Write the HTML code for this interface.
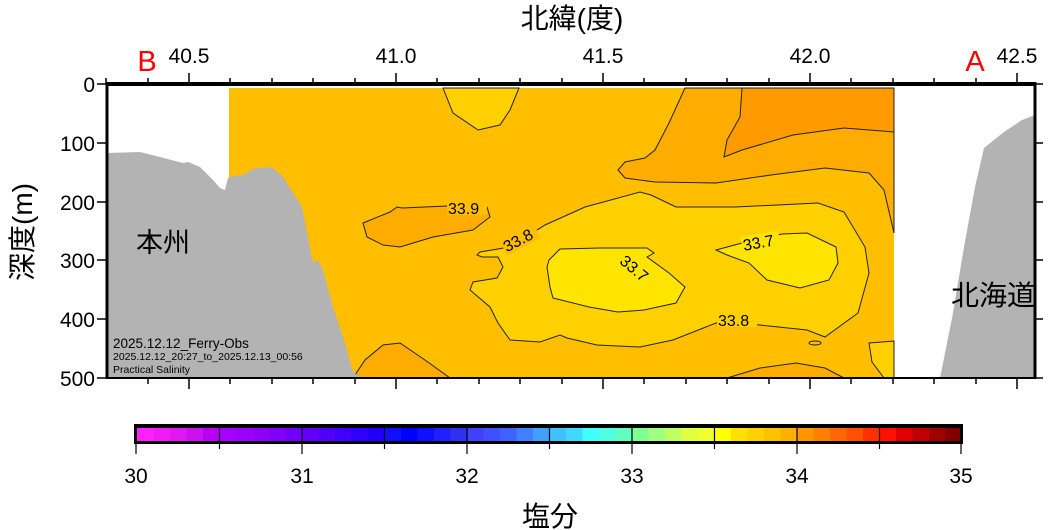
<!DOCTYPE html>
<html><head><meta charset="utf-8"><style>
html,body{margin:0;padding:0;background:#fff;}
svg{display:block;}
text{font-family:"Liberation Sans","Noto Sans CJK JP",sans-serif;}
</style></head><body>
<svg width="1051" height="530" viewBox="0 0 1051 530" xmlns="http://www.w3.org/2000/svg">
<rect x="229" y="88" width="665" height="290" fill="#ffbf00"/>
<path d="M685,88 L669,123 L655,150 L645,158 L625,162 L618,170 L625,178 L655,182 L716,183 L771,175 L825,168 L869,173 L884,190 L894,233 L894,88 Z" fill="#ffac00" stroke="#222" stroke-width="1"/>
<path d="M742,88 L740,117 L727,140 L724,157 L742,150 L793,135 L844,128 L894,132 L894,88 Z" fill="#ff9a00" stroke="#222" stroke-width="1"/>
<path d="M443,88 L453,113 L478,130 L500,125 L510,110 L519,88 Z" fill="#ffd000" stroke="#222" stroke-width="1"/>
<path d="M363,223 L390,212 L397,207 L402,208 L447,206 L487,207 L490,217 L473,230 L433,237 L400,247 L383,245 L367,237 Z" fill="#ffac00" stroke="#222" stroke-width="1"/>
<path d="M353,378 L365,360 L383,345 L400,343 L425,360 L450,378 Z" fill="#ffac00" stroke="#222" stroke-width="1"/>
<path d="M727,378 L760,368 L796,363 L825,368 L844,378 Z" fill="#ffac00" stroke="#222" stroke-width="1"/>
<path d="M477,255 L480,252 L510,247 L545,225 L585,207 L640,192 L651,195 L676,207 L735,207 L818,203 L844,212 L865,247 L869,273 L858,313 L825,337 L807,330 L760,325 L716,323 L673,340 L640,347 L597,345 L567,338 L560,335 L540,342 L510,340 L498,323 L490,307 L470,290 L473,282 L497,278 L503,267 L498,257 L482,257 Z" fill="#ffd000" stroke="#222" stroke-width="1"/>
<path d="M869,343 L894,341 L894,378 L884,378 L872,362 Z" fill="#ffd000" stroke="#222" stroke-width="1"/>
<ellipse cx="815" cy="343" rx="6" ry="2" fill="none" stroke="#222" stroke-width="1"/>
<path d="M549,260 L560,249 L600,248 L647,248 L654,253 L647,257 L669,273 L685,287 L676,303 L644,310 L618,312 L589,307 L553,298 L550,287 L547,267 Z" fill="#ffe400" stroke="#222" stroke-width="1"/>
<path d="M716,250 L742,243 L782,234 L807,233 L836,247 L838,263 L829,280 L800,288 L767,280 L749,263 L727,255 Z" fill="#ffe400" stroke="#222" stroke-width="1"/>
<g font-size="16" fill="#000">
<rect x="447" y="198" width="40" height="17" fill="#ffbf00"/>
<text x="448" y="214">33.9</text>
<g transform="translate(506,253) rotate(-28)"><rect x="0" y="-14" width="38" height="17" fill="#ffbf00"/><text x="1" y="0">33.8</text></g>
<g transform="translate(618,262) rotate(40)"><rect x="0" y="-14" width="38" height="17" fill="#ffe400"/><text x="1" y="0">33.7</text></g>
<g transform="translate(743,251) rotate(-10)"><rect x="0" y="-14" width="38" height="17" fill="#ffe400"/><text x="1" y="0">33.7</text></g>
<rect x="717" y="310" width="40" height="17" fill="#ffd000"/>
<text x="718" y="326">33.8</text>
</g>
<path d="M107,153 L140,152 L160,157 L183,163 L188,162 L200,167 L213,180 L220,188 L225,190 L228,178 L233,176 L243,175 L255,168 L272,167 L283,177 L302,207 L313,263 L318,260 L323,270 L333,307 L345,343 L353,372 L357,375 L363,378 L107,378 Z" fill="#b3b3b3"/>
<path d="M940,378 L953,313 L964,247 L975,187 L984,148 L1004,132 L1022,120 L1035,115 L1035,378 Z" fill="#b3b3b3"/>
<line x1="106" y1="84" x2="1036" y2="84" stroke="#000" stroke-width="4"/>
<line x1="107" y1="82" x2="107" y2="379" stroke="#000" stroke-width="3"/>
<line x1="1035" y1="82" x2="1035" y2="379" stroke="#000" stroke-width="3"/>
<line x1="106" y1="378" x2="1036" y2="378" stroke="#000" stroke-width="2"/>
<g stroke="#000" stroke-width="1.5">
<line x1="106" y1="78" x2="106" y2="84"/><line x1="148" y1="78" x2="148" y2="84"/><line x1="189" y1="73" x2="189" y2="84"/><line x1="230" y1="78" x2="230" y2="84"/><line x1="272" y1="78" x2="272" y2="84"/><line x1="313" y1="78" x2="313" y2="84"/><line x1="355" y1="78" x2="355" y2="84"/><line x1="396" y1="73" x2="396" y2="84"/><line x1="437" y1="78" x2="437" y2="84"/><line x1="479" y1="78" x2="479" y2="84"/><line x1="520" y1="78" x2="520" y2="84"/><line x1="562" y1="78" x2="562" y2="84"/><line x1="603" y1="73" x2="603" y2="84"/><line x1="644" y1="78" x2="644" y2="84"/><line x1="686" y1="78" x2="686" y2="84"/><line x1="727" y1="78" x2="727" y2="84"/><line x1="769" y1="78" x2="769" y2="84"/><line x1="810" y1="73" x2="810" y2="84"/><line x1="851" y1="78" x2="851" y2="84"/><line x1="893" y1="78" x2="893" y2="84"/><line x1="934" y1="78" x2="934" y2="84"/><line x1="976" y1="78" x2="976" y2="84"/><line x1="1017" y1="73" x2="1017" y2="84"/>
<line x1="148" y1="378" x2="148" y2="384"/><line x1="189" y1="378" x2="189" y2="389"/><line x1="230" y1="378" x2="230" y2="384"/><line x1="272" y1="378" x2="272" y2="384"/><line x1="313" y1="378" x2="313" y2="384"/><line x1="355" y1="378" x2="355" y2="384"/><line x1="396" y1="378" x2="396" y2="389"/><line x1="437" y1="378" x2="437" y2="384"/><line x1="479" y1="378" x2="479" y2="384"/><line x1="520" y1="378" x2="520" y2="384"/><line x1="562" y1="378" x2="562" y2="384"/><line x1="603" y1="378" x2="603" y2="389"/><line x1="644" y1="378" x2="644" y2="384"/><line x1="686" y1="378" x2="686" y2="384"/><line x1="727" y1="378" x2="727" y2="384"/><line x1="769" y1="378" x2="769" y2="384"/><line x1="810" y1="378" x2="810" y2="389"/><line x1="851" y1="378" x2="851" y2="384"/><line x1="893" y1="378" x2="893" y2="384"/><line x1="934" y1="378" x2="934" y2="384"/><line x1="976" y1="378" x2="976" y2="384"/><line x1="1017" y1="378" x2="1017" y2="389"/>
<line x1="97" y1="84" x2="107" y2="84"/><line x1="97" y1="143" x2="107" y2="143"/><line x1="97" y1="202" x2="107" y2="202"/><line x1="97" y1="260" x2="107" y2="260"/><line x1="97" y1="319" x2="107" y2="319"/><line x1="97" y1="378" x2="107" y2="378"/>
<line x1="1035" y1="84" x2="1043" y2="84"/><line x1="1035" y1="143" x2="1043" y2="143"/><line x1="1035" y1="202" x2="1043" y2="202"/><line x1="1035" y1="260" x2="1043" y2="260"/><line x1="1035" y1="319" x2="1043" y2="319"/><line x1="1035" y1="378" x2="1043" y2="378"/>
</g>
<g font-size="21" fill="#000">
<text x="189" y="63" text-anchor="middle">40.5</text>
<text x="396" y="63" text-anchor="middle">41.0</text>
<text x="603" y="63" text-anchor="middle">41.5</text>
<text x="810" y="63" text-anchor="middle">42.0</text>
<text x="1017" y="63" text-anchor="middle">42.5</text>
<g text-anchor="end">
<text x="95" y="92">0</text><text x="95" y="151">100</text><text x="95" y="210">200</text><text x="95" y="268">300</text><text x="95" y="327">400</text><text x="95" y="386">500</text>
</g>
</g>
<text x="147" y="71" font-size="29" fill="#f00" text-anchor="middle">B</text>
<text x="975" y="71" font-size="29" fill="#f00" text-anchor="middle">A</text>
<text x="572" y="28" font-size="28" text-anchor="middle">北緯(度)</text>
<text transform="translate(32,232) rotate(-90)" font-size="28" text-anchor="middle">深度(m)</text>
<text x="136" y="252" font-size="27">本州</text>
<text x="951" y="305" font-size="28">北海道</text>
<text x="113" y="348" font-size="13.5">2025.12.12_Ferry-Obs</text>
<text x="113" y="360" font-size="10.5">2025.12.12_20:27_to_2025.12.13_00:56</text>
<text x="113" y="373" font-size="10.5">Practical Salinity</text>
<rect x="134" y="424" width="829" height="20" fill="#000"/>
<g>
<rect x="137.0" y="428" width="16.8" height="13" fill="#ff20ff"/><rect x="153.5" y="428" width="16.8" height="13" fill="#f01cf8"/><rect x="170.0" y="428" width="16.8" height="13" fill="#e018f4"/><rect x="186.5" y="428" width="16.8" height="13" fill="#cc10f0"/><rect x="203.0" y="428" width="16.8" height="13" fill="#b800f4"/>
<rect x="219.5" y="428" width="16.8" height="13" fill="#a800ff"/><rect x="236.0" y="428" width="16.8" height="13" fill="#9c00ff"/><rect x="252.5" y="428" width="16.8" height="13" fill="#9000f8"/><rect x="269.0" y="428" width="16.8" height="13" fill="#8000f8"/><rect x="285.5" y="428" width="16.8" height="13" fill="#7000f8"/>
<rect x="302.0" y="428" width="16.8" height="13" fill="#6000f8"/><rect x="318.5" y="428" width="16.8" height="13" fill="#5000f8"/><rect x="335.0" y="428" width="16.8" height="13" fill="#4000ff"/><rect x="351.5" y="428" width="16.8" height="13" fill="#3000ff"/><rect x="368.0" y="428" width="16.8" height="13" fill="#2000f8"/>
<rect x="384.5" y="428" width="16.8" height="13" fill="#1010ff"/><rect x="401.0" y="428" width="16.8" height="13" fill="#0000ff"/><rect x="417.5" y="428" width="16.8" height="13" fill="#1010ff"/><rect x="434.0" y="428" width="16.8" height="13" fill="#2020ff"/><rect x="450.5" y="428" width="16.8" height="13" fill="#3030f0"/>
<rect x="467.0" y="428" width="16.8" height="13" fill="#4040ff"/><rect x="483.5" y="428" width="16.8" height="13" fill="#4050ff"/><rect x="500.0" y="428" width="16.8" height="13" fill="#4060ff"/><rect x="516.5" y="428" width="16.8" height="13" fill="#4080ff"/><rect x="533.0" y="428" width="16.8" height="13" fill="#40a0ff"/>
<rect x="549.5" y="428" width="16.8" height="13" fill="#40c0ff"/><rect x="566.0" y="428" width="16.8" height="13" fill="#40d8ff"/><rect x="582.5" y="428" width="16.8" height="13" fill="#40ffff"/><rect x="599.0" y="428" width="16.8" height="13" fill="#50ffe0"/><rect x="615.5" y="428" width="16.8" height="13" fill="#60ffc0"/>
<rect x="632.0" y="428" width="16.8" height="13" fill="#80ff90"/><rect x="648.5" y="428" width="16.8" height="13" fill="#a0ff80"/><rect x="665.0" y="428" width="16.8" height="13" fill="#c0ff60"/><rect x="681.5" y="428" width="16.8" height="13" fill="#e0ff40"/><rect x="698.0" y="428" width="16.8" height="13" fill="#f0ff30"/>
<rect x="714.5" y="428" width="16.8" height="13" fill="#ffff00"/><rect x="731.0" y="428" width="16.8" height="13" fill="#ffe000"/><rect x="747.5" y="428" width="16.8" height="13" fill="#ffd000"/><rect x="764.0" y="428" width="16.8" height="13" fill="#ffc000"/><rect x="780.5" y="428" width="16.8" height="13" fill="#ffb000"/>
<rect x="797.0" y="428" width="16.8" height="13" fill="#ff9800"/><rect x="813.5" y="428" width="16.8" height="13" fill="#ff8000"/><rect x="830.0" y="428" width="16.8" height="13" fill="#ff6800"/><rect x="846.5" y="428" width="16.8" height="13" fill="#ff5000"/><rect x="863.0" y="428" width="16.8" height="13" fill="#ff3000"/>
<rect x="879.5" y="428" width="16.8" height="13" fill="#ff1000"/><rect x="896.0" y="428" width="16.8" height="13" fill="#e00000"/><rect x="912.5" y="428" width="16.8" height="13" fill="#c00000"/><rect x="929.0" y="428" width="16.8" height="13" fill="#a00000"/><rect x="945.5" y="428" width="14.5" height="13" fill="#800000"/>
</g>
<g stroke="#000" stroke-width="1.2">
<line x1="219.5" y1="428" x2="219.5" y2="441"/><line x1="302" y1="428" x2="302" y2="441"/><line x1="384.5" y1="428" x2="384.5" y2="441"/><line x1="467" y1="428" x2="467" y2="441"/><line x1="549.5" y1="428" x2="549.5" y2="441"/><line x1="632" y1="428" x2="632" y2="441"/><line x1="714.5" y1="428" x2="714.5" y2="441"/><line x1="797" y1="428" x2="797" y2="441"/><line x1="879.5" y1="428" x2="879.5" y2="441"/>
<line x1="136" y1="443" x2="136" y2="454"/><line x1="219.5" y1="443" x2="219.5" y2="449"/><line x1="302" y1="443" x2="302" y2="454"/><line x1="384.5" y1="443" x2="384.5" y2="449"/><line x1="467" y1="443" x2="467" y2="454"/><line x1="549.5" y1="443" x2="549.5" y2="449"/><line x1="632" y1="443" x2="632" y2="454"/><line x1="714.5" y1="443" x2="714.5" y2="449"/><line x1="797" y1="443" x2="797" y2="454"/><line x1="879.5" y1="443" x2="879.5" y2="449"/><line x1="961" y1="443" x2="961" y2="454"/>
</g>
<g font-size="21" text-anchor="middle">
<text x="136" y="483">30</text><text x="302" y="483">31</text><text x="467" y="483">32</text><text x="632" y="483">33</text><text x="797" y="483">34</text><text x="961" y="483">35</text>
</g>
<text x="550" y="526" font-size="28" text-anchor="middle">塩分</text>
</svg>
</body></html>
